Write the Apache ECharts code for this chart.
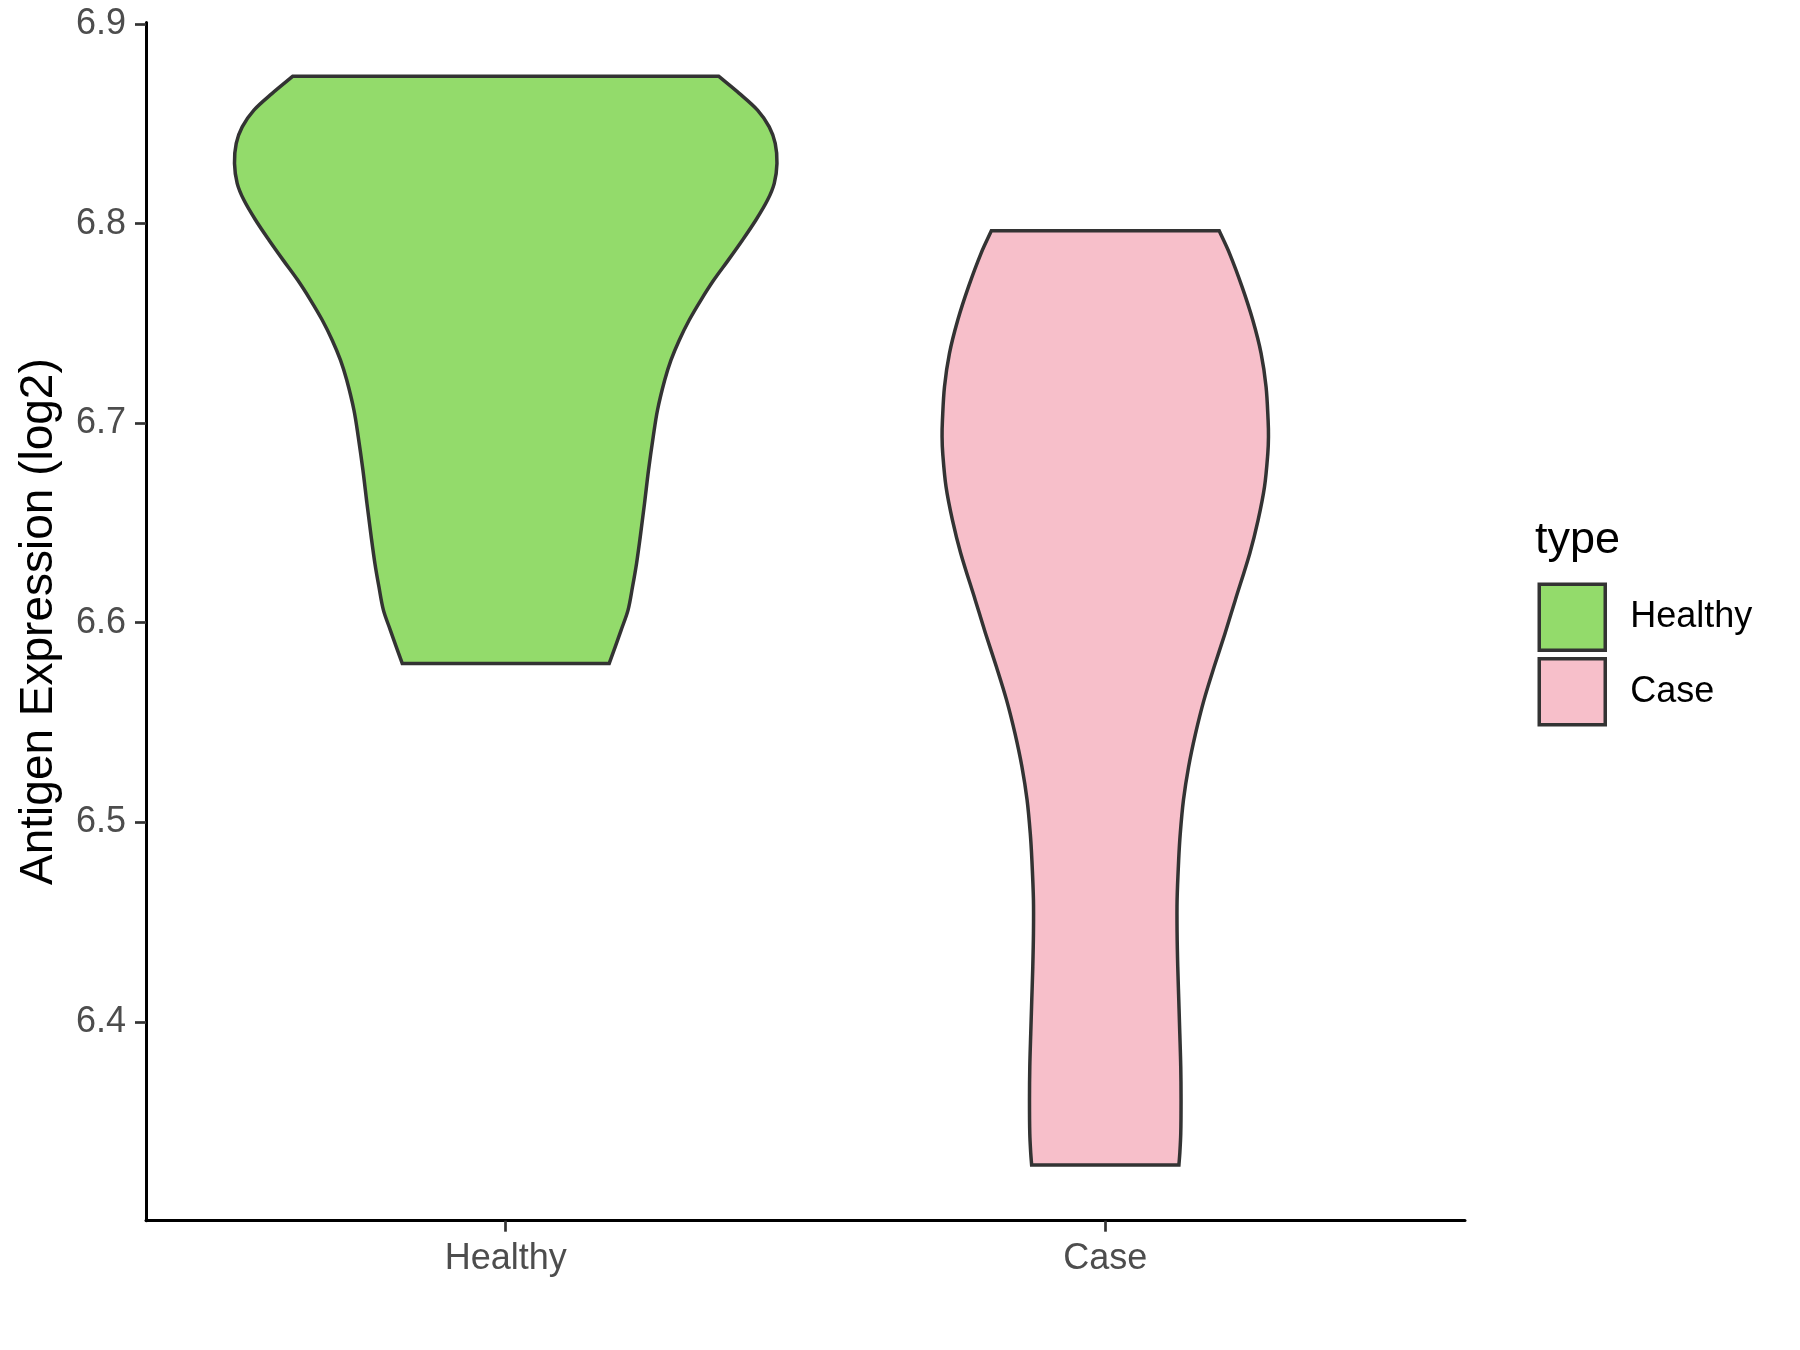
<!DOCTYPE html>
<html>
<head>
<meta charset="utf-8">
<script src="https://cdn.jsdelivr.net/npm/echarts@6/dist/echarts.min.js"></script>
<style>
  html, body { margin: 0; padding: 0; background: #fff; }
  #chart { width: 1800px; height: 1350px; }
</style>
</head>
<body>
<div id="chart"></div>
<script>
// groups on the x axis
var groups = ['Healthy', 'Case'];
var groupColors = ['#93DB6B', '#F7BFCA'];
var yTicks = [6.4, 6.5, 6.6, 6.7, 6.8, 6.9];

// violin outlines: value (log2) and half width (x units)
var healthyY = [6.8739, 6.8653, 6.8569, 6.8485, 6.8402, 6.8302, 6.8202, 6.8118, 6.8018, 6.7918,
  6.7817, 6.7717, 6.7617, 6.7517, 6.7416, 6.7316, 6.7216, 6.7066, 6.6932, 6.6765, 6.6598,
  6.6431, 6.6297, 6.6180, 6.6063, 6.5963, 6.5879, 6.5796];
var healthyHW = [0.3550, 0.3895, 0.4200, 0.4395, 0.4495, 0.4524, 0.4479, 0.4367, 0.4173, 0.3950,
  0.3712, 0.3470, 0.3256, 0.3061, 0.2894, 0.2756, 0.2652, 0.2532, 0.2460, 0.2382, 0.2315,
  0.2244, 0.2182, 0.2115, 0.2040, 0.1925, 0.1826, 0.1726];

var caseY = [6.7964, 6.7851, 6.7683, 6.7517, 6.7350, 6.7182, 6.7015, 6.6932, 6.6848, 6.6681,
  6.6514, 6.6347, 6.6113, 6.5946, 6.5779, 6.5612, 6.5445, 6.5278, 6.5111, 6.4944, 6.4810,
  6.4610, 6.4443, 6.4275, 6.4109, 6.3942, 6.3774, 6.3607, 6.3440, 6.3340, 6.3282];
var caseHW = [0.1900, 0.2072, 0.2282, 0.2460, 0.2599, 0.2682, 0.2716, 0.2722, 0.2711, 0.2656,
  0.2549, 0.2410, 0.2168, 0.1997, 0.1816, 0.1646, 0.1506, 0.1390, 0.1304, 0.1251, 0.1224,
  0.1198, 0.1198, 0.1209, 0.1226, 0.1243, 0.1259, 0.1264, 0.1259, 0.1243, 0.1228];

var outlines = [
  { ys: healthyY, hw: healthyHW },
  { ys: caseY, hw: caseHW }
];

var FONT = '"Liberation Sans", Arial, sans-serif';

// smooth curve through the outline points, x treated as a function of y
function splineSeg(pts) {
  var n = pts.length, m = [];
  for (var i = 0; i < n; i++) {
    var a = pts[Math.max(i - 1, 0)], b = pts[Math.min(i + 1, n - 1)];
    m.push((b[0] - a[0]) / (b[1] - a[1]));
  }
  var d = '';
  for (var k = 0; k < n - 1; k++) {
    var p1 = pts[k], p2 = pts[k + 1];
    var h = (p2[1] - p1[1]) / 3;
    d += ' C' + (p1[0] + m[k] * h) + ' ' + (p1[1] + h) + ' ' +
      (p2[0] - m[k + 1] * h) + ' ' + (p2[1] - h) + ' ' + p2[0] + ' ' + p2[1];
  }
  return d;
}

function violinItem(params, api) {
  var idx = params.seriesIndex;
  var center = idx + 1;
  var o = outlines[idx];
  var right = [], left = [];
  for (var i = 0; i < o.ys.length; i++) {
    right.push(api.coord([center + o.hw[i], o.ys[i]]));
  }
  for (var j = o.ys.length - 1; j >= 0; j--) {
    left.push(api.coord([center - o.hw[j], o.ys[j]]));
  }
  var d = 'M' + left[left.length - 1][0] + ' ' + left[left.length - 1][1];
  d += ' L' + right[0][0] + ' ' + right[0][1];
  d += splineSeg(right);
  d += ' L' + left[0][0] + ' ' + left[0][1];
  d += splineSeg(left);
  d += ' Z';
  return {
    type: 'path',
    shape: { pathData: d },
    style: { fill: groupColors[idx], stroke: '#333333', lineWidth: 3.5, lineJoin: 'miter' }
  };
}

var chart = echarts.init(document.getElementById('chart'));

chart.setOption({
  backgroundColor: '#fff',
  animation: false,
  grid: { left: 146, right: 335, top: 22.5, bottom: 129.3, containLabel: false },
  xAxis: {
    type: 'value',
    min: 0.4,
    max: 2.6,
    splitLine: { show: false },
    axisLine: { show: true, lineStyle: { color: '#000', width: 3 } },
    axisTick: { show: true, length: 11, customValues: [1, 2], lineStyle: { color: '#333', width: 2.7 } },
    axisLabel: {
      customValues: [1, 2],
      formatter: function (v) { return groups[Math.round(v) - 1]; },
      fontSize: 36, color: '#4D4D4D', fontFamily: FONT, margin: 20
    }
  },
  yAxis: {
    type: 'value',
    min: 6.3003,
    max: 6.9008,
    name: 'Antigen Expression (log2)',
    nameLocation: 'middle',
    nameGap: 84,
    nameTextStyle: { fontSize: 46, color: '#000', fontFamily: FONT },
    splitLine: { show: false },
    axisLine: { show: true, lineStyle: { color: '#000', width: 3 } },
    axisTick: { show: true, length: 11, customValues: yTicks, lineStyle: { color: '#333', width: 2.7 } },
    axisLabel: {
      customValues: yTicks,
      formatter: function (v) { return v.toFixed(1); },
      fontSize: 36, color: '#4D4D4D', fontFamily: FONT, margin: 20
    }
  },
  legend: {
    orient: 'vertical',
    left: 1532.5,
    top: 577.5,
    itemWidth: 66,
    itemHeight: 66,
    itemGap: 5,
    icon: 'rect',
    data: groups,
    itemStyle: { borderColor: '#333', borderWidth: 3.5 },
    textStyle: { fontSize: 36, color: '#000', fontFamily: FONT, padding: [0, 0, 0, 20] }
  },
  graphic: [{
    type: 'text',
    left: 1535,
    top: 518,
    style: { text: 'type', font: '45px ' + FONT, fill: '#000' }
  }],
  series: groups.map(function (g, i) {
    return {
      name: g,
      type: 'custom',
      renderItem: violinItem,
      itemStyle: { color: groupColors[i], borderColor: '#333', borderWidth: 3.5 },
      data: [[i + 1, 6.6]],
      clip: false
    };
  })
});
</script>
</body>
</html>
